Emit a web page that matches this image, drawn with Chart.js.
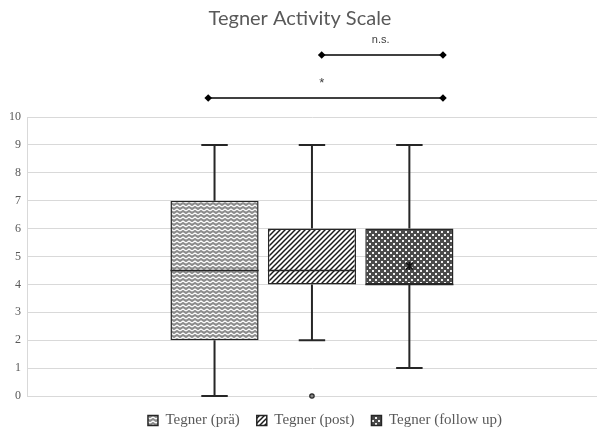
<!DOCTYPE html>
<html><head><meta charset="utf-8">
<script src="https://cdn.jsdelivr.net/npm/chart.js@4"></script>
<style>html,body{margin:0;padding:0;background:#fff}#wrap{width:597px;height:431px}</style>
</head><body><div id="wrap"><canvas id="c" width="597" height="431"></canvas></div>
<script>
const seriesNames = ['Tegner (prä)', 'Tegner (post)', 'Tegner (follow up)'];
const seriesPositions = [1, 2, 3];
const q1Values = [2, 4, 4];
const q3Values = [7, 6, 6];
const medianValues = [4.5, 4.5, 4];
const minValues = [0, 2, 1];
const maxValues = [9, 9, 9];
const outlierValues = [[], [0], []];
const meanValues = [null, null, 4.66];
const yTicks = [0,1,2,3,4,5,6,7,8,9,10];
// significance brackets (x in series-position units), y value, label
const bracketX = [[0.935, 3.345], [2.1, 3.345]];
const bracketY = [10.68, 12.22];
const bracketLabels = ['*', 'n.s.'];
const bracketLabelX = [2.1, 2.705];

function makePattern(w, h, draw) {
  const c = document.createElement('canvas'); c.width = w; c.height = h;
  const g = c.getContext('2d'); draw(g, w, h);
  return g.createPattern(c, 'repeat');
}
const ctx0 = document.getElementById('c').getContext('2d');
const pZig = makePattern(6, 4, (g, w, h) => {
  g.fillStyle = '#8c8c8c'; g.fillRect(0, 0, w, h);
  g.strokeStyle = '#ffffff'; g.lineWidth = 1.4;
  [-4, 0, 4].forEach(o => {
    g.beginPath(); g.moveTo(0, 3 + o); g.lineTo(3, 1 + o); g.lineTo(6, 3 + o); g.stroke();
  });
});
const pStripe = makePattern(5, 5, (g, w, h) => {
  g.fillStyle = '#ffffff'; g.fillRect(0, 0, w, h);
  g.strokeStyle = '#1a1a1a'; g.lineWidth = 1.5;
  g.beginPath(); g.moveTo(-1, 6); g.lineTo(6, -1); g.stroke();
  g.beginPath(); g.moveTo(-1, 1); g.lineTo(1, -1); g.stroke();
  g.beginPath(); g.moveTo(4, 6); g.lineTo(6, 4); g.stroke();
});
const pDots = makePattern(6, 6, (g, w, h) => {
  g.fillStyle = '#4a4a4a'; g.fillRect(0, 0, w, h);
  g.fillStyle = '#f0f0f0'; g.fillRect(0, 0, 2, 2); g.fillRect(3, 3, 2, 2);
});
const patterns = [pZig, pStripe, pDots];

const boxData = seriesPositions.map((p, i) => ({ x: p, y: [q1Values[i], q3Values[i]] }));

const bracketDatasets = bracketY.map((yv, i) => ({
  type: 'line', label: 'bracket' + i,
  data: [{x: bracketX[i][0], y: yv}, {x: bracketX[i][1], y: yv}],
  borderColor: '#000', borderWidth: 1.5, pointRadius: 0, clip: false
}));

const boxPlugin = {
  id: 'boxplot',
  afterLayout(chart) {
    if (chart.legend) { chart.legend.left += 25; chart.legend.right += 25; }
  },
  afterDatasetsDraw(chart) {
    const ctx = chart.ctx, ys = chart.scales.y, xs = chart.scales.x;
    const meta = chart.getDatasetMeta(0);
    ctx.save();
    seriesNames.forEach((n, i) => {
      const el = meta.data[i];
      if (!el) return;
      const x = el.x, w = el.width, cap = w * 0.3;
      ctx.strokeStyle = '#262626'; ctx.lineWidth = 2;
      const yq1 = ys.getPixelForValue(q1Values[i]), yq3 = ys.getPixelForValue(q3Values[i]);
      const ymin = ys.getPixelForValue(minValues[i]), ymax = ys.getPixelForValue(maxValues[i]);
      ctx.beginPath();
      ctx.moveTo(x, yq3); ctx.lineTo(x, ymax);
      ctx.moveTo(x - cap / 2, ymax); ctx.lineTo(x + cap / 2, ymax);
      ctx.moveTo(x, yq1); ctx.lineTo(x, ymin);
      ctx.moveTo(x - cap / 2, ymin); ctx.lineTo(x + cap / 2, ymin);
      ctx.stroke();
      ctx.lineWidth = 1.5;
      const ym = ys.getPixelForValue(medianValues[i]);
      ctx.beginPath(); ctx.moveTo(x - w / 2, ym); ctx.lineTo(x + w / 2, ym); ctx.stroke();
      outlierValues[i].forEach(v => {
        ctx.beginPath(); ctx.arc(x, ys.getPixelForValue(v), 2.2, 0, Math.PI * 2);
        ctx.fillStyle = '#888'; ctx.fill(); ctx.lineWidth = 1.2; ctx.stroke();
      });
      if (meanValues[i] != null) {
        const yv = ys.getPixelForValue(meanValues[i]), s = 3.5;
        ctx.strokeStyle = '#111'; ctx.lineWidth = 1.6;
        ctx.beginPath();
        ctx.moveTo(x - s, yv - s); ctx.lineTo(x + s, yv + s);
        ctx.moveTo(x + s, yv - s); ctx.lineTo(x - s, yv + s);
        ctx.moveTo(x, yv - s - 0.5); ctx.lineTo(x, yv + s + 0.5);
        ctx.stroke();
      }
    });
    ctx.fillStyle = '#000';
    bracketX.forEach((pair, i) => {
      const yy = ys.getPixelForValue(bracketY[i]);
      pair.forEach(xv => {
        const xx = xs.getPixelForValue(xv), d = 3.8;
        ctx.beginPath(); ctx.moveTo(xx, yy - d); ctx.lineTo(xx + d, yy);
        ctx.lineTo(xx, yy + d); ctx.lineTo(xx - d, yy); ctx.closePath(); ctx.fill();
      });
    });
    ctx.fillStyle = '#404040';
    ctx.textAlign = 'center'; ctx.textBaseline = 'middle';
    bracketLabels.forEach((t, i) => {
      ctx.font = (t === '*' ? '13px' : '11px') + ' "Liberation Sans", Arial, sans-serif';
      const xm = xs.getPixelForValue(bracketLabelX[i]);
      const yy = ys.getPixelForValue(bracketY[i]) - 15;
      ctx.fillText(t, xm, yy);
    });
    ctx.restore();
  }
};

new Chart(ctx0, {
  data: { datasets: [{
      type: 'bar', label: 'Tegner', data: boxData,
      backgroundColor: patterns, borderColor: '#262626', borderWidth: 1.5,
      borderSkipped: false, barPercentage: 0.905, categoryPercentage: 1.0
    }, ...bracketDatasets] },
  options: {
    responsive: false, animation: false, devicePixelRatio: 1,
    layout: { padding: { left: 3, right: 0, top: 7, bottom: -7 } },
    plugins: {
      title: { display: true, text: 'Tegner Activity Scale', color: '#595959',
        font: { family: 'Lato, "Open Sans", sans-serif', size: 20, weight: 'normal' },
        padding: { top: 0, bottom: 86 } },
      legend: { position: 'bottom',
        labels: {
          color: '#595959',
          font: { family: '"Liberation Serif", "DejaVu Serif", serif', size: 15 },
          boxWidth: 10, boxHeight: 10, padding: 17,
          generateLabels: (chart) => seriesNames.map((n, i) => ({
            text: n, fillStyle: patterns[i], strokeStyle: '#262626', lineWidth: 1.5,
            fontColor: '#595959', hidden: false, index: i, datasetIndex: 0
          }))
        },
        onClick: () => {} },
      tooltip: { enabled: false }
    },
    scales: {
      x: { type: 'linear', display: false, offset: false, grid: { offset: false },
        min: -0.925, max: 4.926,
        afterBuildTicks: (s) => { s.ticks = seriesPositions.map(v => ({ value: v })); } },
      y: { type: 'linear', min: 0, max: 10,
        afterBuildTicks: (s) => { s.ticks = yTicks.map(v => ({ value: v })); },
        ticks: { color: '#595959', padding: 6,
          font: { family: '"Liberation Serif", serif', size: 12 } },
        grid: { color: '#d9d9d9', lineWidth: 1, drawTicks: false },
        border: { display: true, color: '#d9d9d9' } }
    }
  },
  plugins: [boxPlugin]
});
</script></body></html>
